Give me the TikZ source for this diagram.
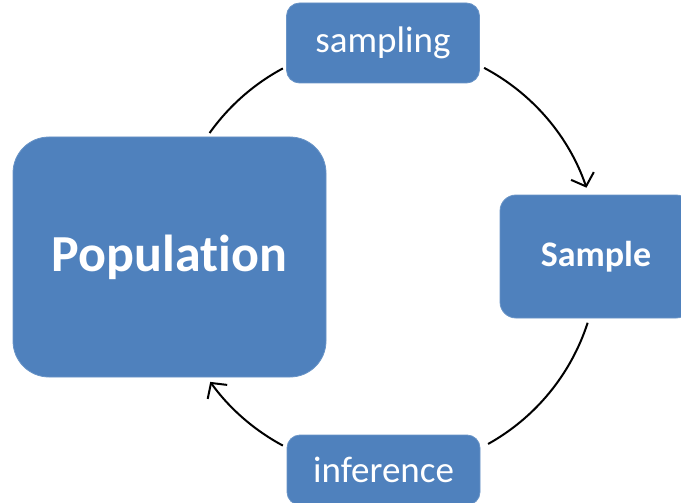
\documentclass[tikz,border=0pt]{standalone}
\usepackage{fontspec}
\setmainfont{Carlito}[Ligatures=NoCommon]
\usetikzlibrary{arrows.meta,calc}
\definecolor{boxblue}{RGB}{79,129,189}
\tikzset{
  box/.style={fill=boxblue, draw=boxblue!85!white, line width=0.8pt, text=white, inner sep=0pt, anchor=center},
  conn/.style={line width=2pt, black},
  tip/.style={-{Straight Barb[length=11pt,width=24pt,line width=2pt]}}
}
\begin{document}
\begin{tikzpicture}[x=1pt,y=-1pt]
\clip (0,0) rectangle (681,503);
\fill[white] (0,0) rectangle (681,503);
\node[box, minimum width=313pt, minimum height=240pt, rounded corners=36pt] (pop) at (169.5,257)
  {\fontsize{52}{56}\selectfont\bfseries Population};
\node[box, minimum width=193pt, minimum height=80pt, rounded corners=13pt] (samp) at (383,43)
  {\fontsize{37}{40}\selectfont sampling};
\node[box, minimum width=192pt, minimum height=123pt, rounded corners=16pt] (sample) at (596,256.5)
  {\fontsize{36}{39}\selectfont\bfseries Sample};
\node[box, minimum width=193pt, minimum height=70pt, rounded corners=13pt] (inf) at (383.5,470)
  {\fontsize{37}{40}\selectfont inference};
\coordinate (c) at (384,257);
\coordinate (a1) at ($(c)+(-144.6:214)$);
\coordinate (a2) at ($(c)+(-62.1:214)$);
\coordinate (a3) at ($(c)+(17.9:214)$);
\coordinate (a4) at ($(c)+(118.2:214)$);
\draw[conn] (a1) arc[start angle=-144.6, end angle=-118.2, radius=214];
\draw[conn, tip] (a2) arc[start angle=-62.1, end angle=-18.9, radius=214];
\draw[conn] (a3) arc[start angle=17.9, end angle=60.9, radius=214];
\draw[conn, tip] (a4) arc[start angle=118.2, end angle=144.3, radius=214];
\end{tikzpicture}
\end{document}
